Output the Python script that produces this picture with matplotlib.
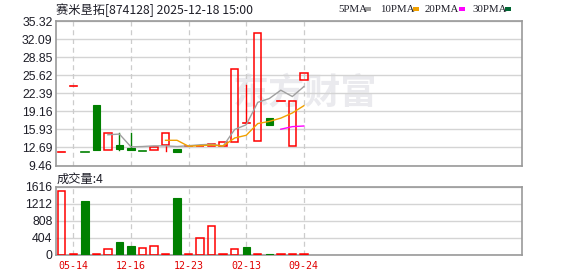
#!/usr/bin/env python3
"""K-line chart: 赛米垦拓 [874128], daily candles + MA lines + volume."""

import matplotlib
matplotlib.use("Agg")
import matplotlib.pyplot as plt
from matplotlib.patches import Rectangle
import numpy as np

TITLE = "赛米垦拓[874128] 2025-12-18 15:00"
VOL_LABEL = "成交量:4"
WATERMARK = "东方财富"

# candle data
opens  = [11.84, 23.68, 11.84, 20.20, 12.25, 13.05, 12.60, 12.14, 12.25, 13.18, 12.37,
          12.96, 12.96, 13.00, 13.00, 13.74, 17.11, 13.92, 18.00, 21.07, 12.96, 24.75]
closes = [11.84, 23.68, 11.84, 12.25, 15.20, 12.45, 12.25, 12.14, 12.85, 15.20, 11.84,
          12.96, 13.00, 13.30, 13.60, 26.70, 17.11, 33.10, 16.69, 21.07, 21.07, 26.00]
highs  = [11.84, 23.68, 11.84, 20.20, 15.20, 15.20, 15.20, 12.14, 12.85, 15.20, 12.37,
          12.96, 13.00, 13.30, 13.60, 26.70, 23.90, 33.10, 18.00, 21.07, 21.07, 26.00]
lows   = [11.84, 23.68, 11.84, 12.25, 12.25, 12.15, 12.25, 12.14, 12.25, 12.00, 11.84,
          12.96, 12.96, 13.00, 13.00, 13.74, 17.11, 13.92, 16.69, 21.07, 12.96, 24.75]
# colour flags (True = red / up) as drawn by the source
price_up = [True, True, False, False, True, False, False, False, True, True, False,
            True, True, True, True, True, True, True, False, True, True, True]
volumes  = [1509, 5, 1271, 5, 123, 297, 202, 154, 195, 5, 1342,
            5, 385, 670, 5, 123, 178, 5, 20, 5, 5, 4]
vol_up   = [True, True, False, True, True, False, False, True, True, True, False,
            True, True, True, True, True, False, True, False, True, True, True]

date_idx    = [1, 6, 11, 16, 21]
date_labels = ["05-14", "12-16", "12-23", "02-13", "09-24"]

price_ticks = [9.46, 12.69, 15.93, 19.16, 22.39, 25.62, 28.85, 32.09, 35.32]
vol_ticks   = [0, 404, 808, 1212, 1616]

ma_periods = [5, 10, 20, 30]
ma_names   = ["5PMA", "10PMA", "20PMA", "30PMA"]
MA_COLORS  = ["#a0a0a0", "#f0a000", "#ff00ff", "#006633"]

RED   = "#ff0000"
GREEN = "#008000"
GRID  = "#d4d4d4"
FRAME = "#999999"
TEXT  = "#1e1e28"

W, H = 578, 276
fig = plt.figure(figsize=(W / 100, H / 100), dpi=100)
fig.patch.set_facecolor("white")


def fx(px):
    return px / W


def fy(py):
    return 1 - py / H


ax_p = fig.add_axes([fx(56), fy(165.5), fx(466), 144.5 / H])
ax_v = fig.add_axes([fx(56), fy(254.5), fx(466), 68 / H])

n = len(closes)
x = np.arange(n)
bw = 0.64
xlim = (-0.5, 39.92)

for ax in (ax_p, ax_v):
    ax.set_xlim(*xlim)
    for s in ax.spines.values():
        s.set_edgecolor(FRAME)
        s.set_linewidth(1.2)
    ax.tick_params(axis="both", length=0)
    ax.grid(axis="y", color=GRID, linewidth=1.0, zorder=0)
    ax.set_axisbelow(True)
    for i in date_idx:
        ax.axvline(i, color="#cccccc", linewidth=0.9, linestyle=(0, (4, 3)), zorder=1)

# watermark
ax_p.text((233 - 56) / 466, (165.5 - 93) / 144.5, WATERMARK, transform=ax_p.transAxes,
          fontsize=26, family=["Noto Sans CJK SC"], fontweight="bold", color="#eaeaee",
          ha="left", va="center", zorder=0.5)

# candles
for i in x:
    o, c, h, l = opens[i], closes[i], highs[i], lows[i]
    col = RED if price_up[i] else GREEN
    top, bot = max(o, c), min(o, c)
    if h > top:
        ax_p.plot([i, i], [top, h], color=col, linewidth=1.0, zorder=3)
    if l < bot:
        ax_p.plot([i, i], [l, bot], color=col, linewidth=1.0, zorder=3)
    if abs(c - o) < 1e-9:
        ax_p.plot([i - bw / 2, i + bw / 2], [c, c], color=col, linewidth=1.2, zorder=3)
    elif c > o:
        ax_p.add_patch(Rectangle((i - bw / 2, bot), bw, top - bot, facecolor="none",
                                 edgecolor=col, linewidth=1.1, zorder=3))
    else:
        ax_p.add_patch(Rectangle((i - bw / 2, bot), bw, top - bot, facecolor=col,
                                 edgecolor=col, linewidth=0.8, zorder=3))

# moving averages
closes_arr = np.array(closes)
for p, col in zip(ma_periods, MA_COLORS):
    if n < p:
        continue
    ma = np.convolve(closes_arr, np.ones(p) / p, mode="valid")
    ax_p.plot(x[p - 1:], ma, color=col, linewidth=1.0, zorder=4)

ax_p.set_ylim(price_ticks[0], price_ticks[-1])
ax_p.set_yticks(price_ticks)
ax_p.set_yticklabels([f"{t:.2f}" for t in price_ticks])
ax_p.set_xticks([])

# volume
for i in x:
    col = RED if vol_up[i] else GREEN
    if vol_up[i]:
        ax_v.add_patch(Rectangle((i - bw / 2, 0), bw, volumes[i], facecolor="none",
                                 edgecolor=col, linewidth=1.1, zorder=3))
    else:
        ax_v.add_patch(Rectangle((i - bw / 2, 0), bw, volumes[i], facecolor=col,
                                 edgecolor=col, linewidth=0.8, zorder=3))

ax_v.set_ylim(vol_ticks[0], vol_ticks[-1])
ax_v.set_yticks(vol_ticks)
ax_v.set_yticklabels([str(t) for t in vol_ticks])
ax_v.set_xticks(date_idx)
ax_v.set_xticklabels(date_labels, color="#e00000", fontsize=7.2,
                     family=["DejaVu Sans Mono"])
ax_v.tick_params(axis="x", pad=4.5)

for ax in (ax_p, ax_v):
    for lab in ax.get_yticklabels():
        lab.set_family(["Liberation Sans"])
        lab.set_fontsize(8.8)
        lab.set_color(TEXT)
    ax.tick_params(axis="y", pad=2.5)

# title & volume label
fig.text(fx(56), fy(10), TITLE, fontsize=8.8, color=TEXT, va="center", ha="left",
         family=["Noto Sans CJK SC", "DejaVu Sans"])
fig.text(fx(57), fy(179), VOL_LABEL, fontsize=8.8, color=TEXT, va="center", ha="left",
         family=["Noto Sans CJK SC", "DejaVu Sans"])

# legend
leg_x = [338, 380, 425, 472]
box_x = [365, 413, 459, 505]
for name, col, tx, bx in zip(ma_names, MA_COLORS, leg_x, box_x):
    fig.text(fx(tx), fy(9), name, fontsize=7.8, color=TEXT, va="center", ha="left",
             family=["Liberation Serif"])
    fig.patches.append(Rectangle((fx(bx), fy(10.5)), fx(6), 3.5 / H, facecolor=col,
                                 edgecolor="none", transform=fig.transFigure, figure=fig))

fig.savefig("out.png", dpi=100, facecolor="white")
